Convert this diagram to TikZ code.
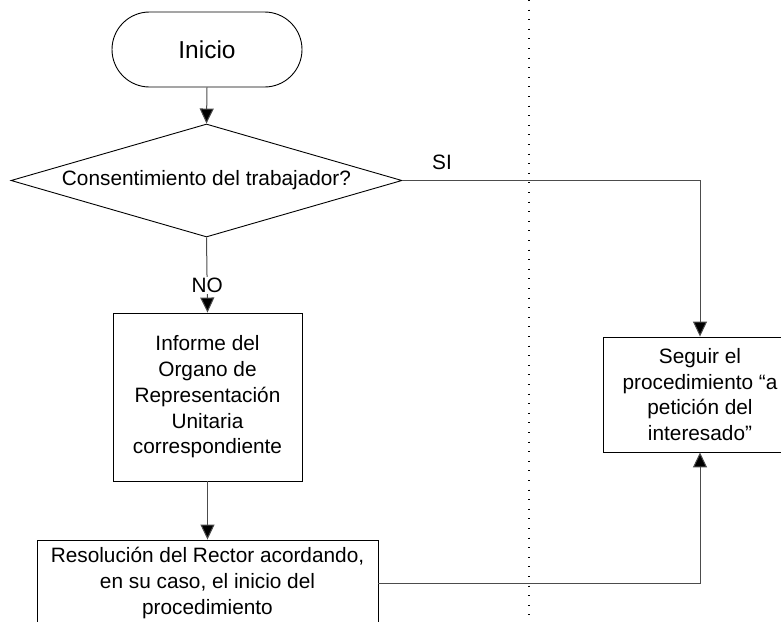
\documentclass[tikz,border=0pt]{standalone}
\usepackage{fontspec}
\setmainfont{Liberation Sans}
\usetikzlibrary{shapes.geometric,arrows.meta}
\begin{document}
\begin{tikzpicture}[x=1pt,y=-1pt,
  font=\fontsize{20.8}{25.8}\selectfont,
  shapeline/.style={draw=black, line width=0.9pt, fill=white},
  procbox/.style={shapeline, rectangle, align=center, inner sep=0pt},
  conn/.style={draw=black!70, line width=1pt},
  arr/.style={conn, -{Triangle[width=14pt,length=15pt,fill=black]}},
  lbl/.style={inner sep=1pt}
]
\useasboundingbox (0,0) rectangle (781,621);
\clip (0,0) rectangle (781,621);

% swimlane separator
\coordinate (sepTop) at (529,0);
\coordinate (sepBot) at (529,621);
\draw[line width=1.1pt, dash pattern=on 1pt off 8.6pt] (sepTop) -- (sepBot);

\node[shapeline, rectangle, rounded corners=37.5pt, minimum width=190pt, minimum height=75pt,
  font=\fontsize{24.5}{29}\selectfont] (ini) at (207,49.5) {Inicio};

\node[shapeline, diamond, aspect=3.5, inner sep=0pt, minimum width=391pt, minimum height=113pt] (dec) at (206.5,180.5) {Consentimiento del trabajador?};

\node[procbox, minimum width=189pt, minimum height=168pt] (inf) at (207.5,397)
  {Informe del\\Organo de\\Representación\\Unitaria\\correspondiente};

\node[procbox, minimum width=341pt, minimum height=86pt] (res) at (207.5,583)
  {\raisebox{5pt}{\parbox{330pt}{\centering Resolución del Rector acordando,\\en su caso, el inicio del\\procedimiento}}};

\node[procbox, minimum width=194pt, minimum height=115pt] (seg) at (700,394.5)
  {Seguir el\\procedimiento “a\\petición del\\interesado”};

\draw[arr] (ini.south) -- (dec.north);
\draw[arr] (dec.south) -- node[lbl, fill=white, pos=0.64] (no) {NO} (inf.north);
\draw[arr] (inf.south) -- (res.north);
\draw[arr] (dec.east) -| (seg.north);
\node[lbl] (si) at (442,162) {SI};
\draw[arr] (res.east) -| (seg.south);
\end{tikzpicture}
\end{document}
